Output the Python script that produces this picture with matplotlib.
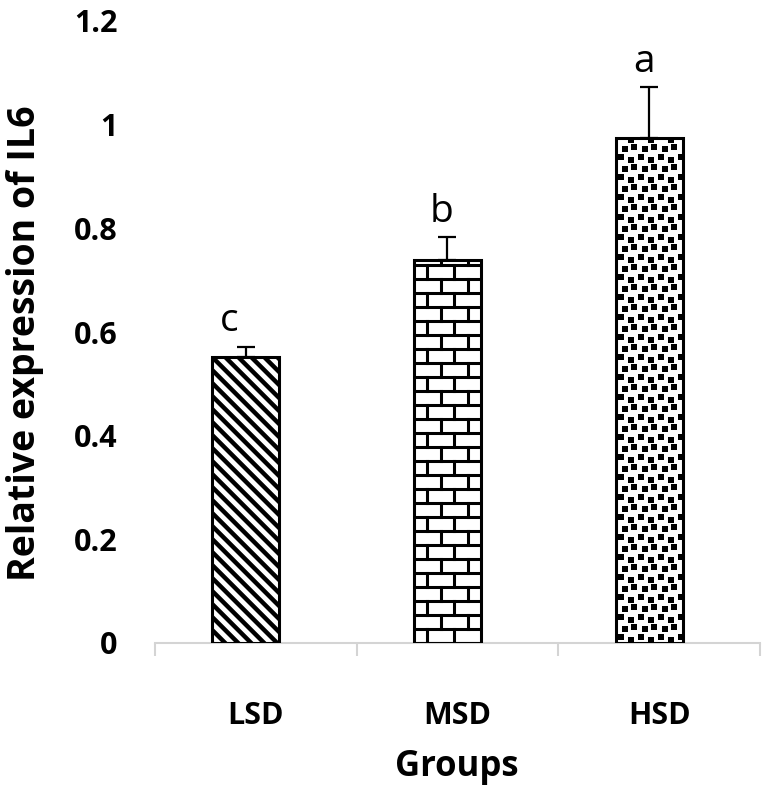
import matplotlib
matplotlib.use("Agg")
import matplotlib.pyplot as plt
import numpy as np
from matplotlib.lines import Line2D
from matplotlib.patches import Rectangle
from matplotlib.collections import PatchCollection
from matplotlib.transforms import IdentityTransform

# data
groups = ["LSD", "MSD", "HSD"]
expression = [0.552, 0.739, 0.974]
errors = [0.019, 0.044, 0.098]
letters = ["c", "b", "a"]
yticks = [0, 0.2, 0.4, 0.6, 0.8, 1.0, 1.2]
ytick_labels = ["0", "0.2", "0.4", "0.6", "0.8", "1", "1.2"]

plt.rcParams["font.family"] = ["Open Sans", "DejaVu Sans"]

W, H = 768, 792
fig = plt.figure(figsize=(W / 100, H / 100), dpi=100)
ax = fig.add_axes([155 / W, 1 - 643 / H, 605 / W, 622 / H])

x = np.arange(len(groups)) - 0.05
bar_w = 0.333

ax.set_xlim(-0.5, len(groups) - 0.5)
ax.set_ylim(0, 1.2)

# white face first, patterns on top, outline last
bars = ax.bar(x, expression, width=bar_w, color="white", edgecolor="none", zorder=2)


def box(bar):
    (x0, y0) = ax.transData.transform((bar.get_x(), 0))
    (x1, y1) = ax.transData.transform((bar.get_x() + bar.get_width(), bar.get_height()))
    return x0, y0, x1, y1


def put(artist, bar):
    # add first: add_artist would otherwise reset the clip to the axes patch
    ax.add_artist(artist)
    artist.set_clip_path(bar)


def stripes(bar):
    x0, y0, x1, y1 = box(bar)
    h = y1 - y0
    step = 13
    xs = x0 - h - step
    while xs < x1 + step:
        put(Line2D([xs, xs + h + 20], [y1, y0 - 20], color="black", lw=3.2,
                   transform=IdentityTransform(), zorder=3), bar)
        xs += step


def bricks(bar):
    x0, y0, x1, y1 = box(bar)
    row, bw = 14, 27
    k = 0
    y = y0
    while y < y1:
        put(Line2D([x0, x1], [y, y], color="black", lw=2.2,
                   transform=IdentityTransform(), zorder=3), bar)
        xv = x0 + bw / 2 * (1 + k % 2)
        while xv < x1:
            put(Line2D([xv, xv], [y, y + row], color="black", lw=2.2,
                       transform=IdentityTransform(), zorder=3), bar)
            xv += bw
        y += row
        k += 1


def confetti(bar):
    x0, y0, x1, y1 = box(bar)
    tile = 20
    spots = [(2, 3), (12, 0), (6, 11), (15, 13)]
    rects = []
    ty = y0
    while ty < y1:
        tx = x0
        while tx < x1:
            for (dx, dy) in spots:
                rects.append(Rectangle((tx + dx, ty + dy), 6, 6))
            tx += tile
        ty += tile
    pc = PatchCollection(rects, facecolor="black", edgecolor="none",
                         transform=IdentityTransform(), zorder=3)
    put(pc, bar)


for bar, fill in zip(bars, [stripes, bricks, confetti]):
    fill(bar)

ax.bar(x, expression, width=bar_w, fill=False, edgecolor="black", linewidth=2.2, zorder=4)

ax.errorbar(x, expression, yerr=[np.zeros(len(errors)), errors], fmt="none",
            ecolor="black", elinewidth=1.6, capsize=6.5, capthick=1.6, zorder=5)

# significance letters
letter_dx = [-0.08, -0.027, -0.025]
for xi, v, e, lab, dx in zip(x, expression, errors, letters, letter_dx):
    ax.text(xi + dx, v + e + 0.03, lab, ha="center", va="baseline",
            fontsize=28, color="black")

for s in ["top", "right", "left"]:
    ax.spines[s].set_visible(False)
ax.spines["bottom"].set_color("#d4d4d4")
ax.spines["bottom"].set_linewidth(1.5)

ax.set_yticks(yticks)
ax.set_yticklabels(ytick_labels, fontsize=22, fontweight="bold")
ax.tick_params(axis="y", length=0, pad=27)

ax.set_xticks(np.arange(len(groups)))
ax.set_xticklabels(groups, fontsize=22, fontweight="bold")
ax.set_xticks(np.arange(len(groups) + 1) - 0.5, minor=True)
ax.tick_params(axis="x", which="major", length=0, pad=42)
ax.tick_params(axis="x", which="minor", length=9.5, width=1.5, color="#d4d4d4")

fig.text(457 / W, 1 - 776 / H, "Groups", ha="center", va="baseline",
         fontsize=25, fontweight="bold")
fig.text(25 / W, 1 - 343 / H, "Relative expression of IL6", ha="center", va="center",
         rotation=90, fontsize=27, fontweight="bold")

fig.savefig("out.png", dpi=100)
